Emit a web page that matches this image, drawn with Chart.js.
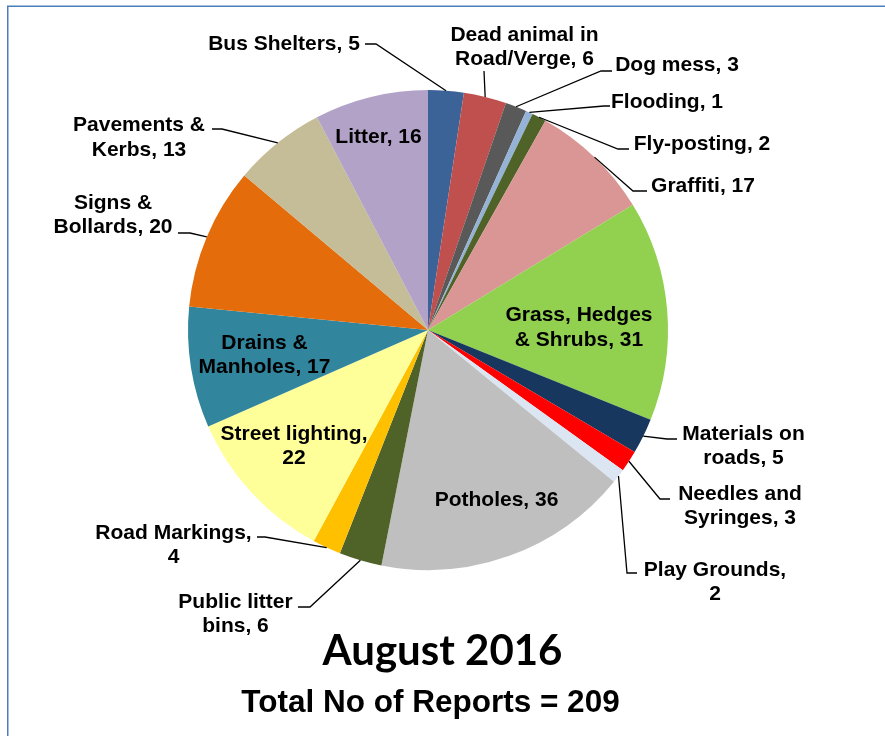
<!DOCTYPE html>
<html>
<head>
<meta charset="utf-8">
<script src="https://cdn.jsdelivr.net/npm/chart.js@4.4.1/dist/chart.umd.min.js"></script>
<style>
  html, body { margin: 0; padding: 0; background: #ffffff; }
  #wrap { width: 885px; height: 736px; position: relative; }
</style>
</head>
<body>
<div id="wrap"><canvas id="c" width="885" height="736"></canvas></div>
<script>
// ---------------- data ----------------
const categories = [
  "Bus Shelters", "Dead animal in Road/Verge", "Dog mess", "Flooding", "Fly-posting",
  "Graffiti", "Grass, Hedges & Shrubs", "Materials on roads", "Needles and Syringes",
  "Play Grounds", "Potholes", "Public litter bins", "Road Markings", "Street lighting",
  "Drains & Manholes", "Signs & Bollards", "Pavements & Kerbs", "Litter"
];
const reports = [5, 6, 3, 1, 2, 17, 31, 5, 3, 2, 36, 6, 4, 22, 17, 20, 13, 16];
const sliceColors = [
  "#3C6398", "#C0504D", "#595959", "#95B3D7", "#4F6228",
  "#D99694", "#92D050", "#17375E", "#FF0000",
  "#DCE6F2", "#BFBFBF", "#4F6228", "#FFC000", "#FFFF99",
  "#31859C", "#E46C0A", "#C4BD97", "#B3A2C7"
];
const periodTitle = "August 2016";
const totalReports = reports.reduce((a, b) => a + b, 0);
const subtitleText = "Total No of Reports = " + totalReports;

// ---------------- label layout (offsets from pie centre) ----------------
// pos: [dx, dy] centre of first text line; breakAt: words on first line; leader: points from label toward slice
const labelLayout = [
  { pos: [-144, -288], breakAt: 0, leader: [[-63, -286], [-52, -286]] },
  { pos: [96.5, -297], breakAt: 3, leader: [[56, -259]] },
  { pos: [249, -267], breakAt: 0, leader: [[184, -259], [173, -259]] },
  { pos: [239, -230], breakAt: 0, leader: [[182, -224], [176, -224]] },
  { pos: [274, -188], breakAt: 0, leader: [[201, -181], [190, -181]] },
  { pos: [275, -146], breakAt: 0, leader: [[219, -139], [205, -139]] },
  { pos: [151, -16.5], breakAt: 2 },
  { pos: [315.5, 102], breakAt: 2, leader: [[249, 109], [239, 109]] },
  { pos: [312, 162], breakAt: 2, leader: [[242, 169], [232, 169]] },
  { pos: [287, 238], breakAt: 2, leader: [[209, 243], [199, 243]] },
  { pos: [68.5, 168], breakAt: 0 },
  { pos: [-192.5, 270], breakAt: 2, leader: [[-130, 277], [-118, 277]] },
  { pos: [-254.5, 201], breakAt: 2, leader: [[-171, 207], [-163, 207]] },
  { pos: [-134, 102], breakAt: 2 },
  { pos: [-163.5, 11], breakAt: 2 },
  { pos: [-315, -129], breakAt: 2, leader: [[-250, -97], [-238, -97]] },
  { pos: [-289, -206.5], breakAt: 2, leader: [[-216, -201], [-206, -201]] },
  { pos: [-49.5, -195], breakAt: 0 }
];

const LABEL_FONT = 'bold 21px "Liberation Sans", Arial, sans-serif';
const LINE_H = 24.5;

const framePlugin = {
  id: 'frame',
  beforeDraw(chart) {
    const ctx = chart.ctx;
    ctx.save();
    ctx.fillStyle = '#ffffff';
    ctx.fillRect(0, 0, chart.width, chart.height);
    ctx.strokeStyle = '#4A7EBB';
    ctx.lineWidth = 1.5;
    ctx.beginPath();
    ctx.moveTo(7.75, chart.height);
    ctx.lineTo(7.75, 6.25);
    ctx.lineTo(chart.width, 6.25);
    ctx.stroke();
    ctx.restore();
  }
};

const labelPlugin = {
  id: 'sliceLabels',
  afterDatasetsDraw(chart) {
    const ctx = chart.ctx;
    const arcs = chart.getDatasetMeta(0).data;
    const cx = arcs[0].x, cy = arcs[0].y;
    ctx.save();
    ctx.strokeStyle = '#000000';
    ctx.lineWidth = 1.3;
    arcs.forEach((arc, i) => {
      const lay = labelLayout[i];
      if (!lay || !lay.leader) return;
      const p = arc.getProps(['startAngle', 'endAngle', 'outerRadius', 'x', 'y'], true);
      const a = (p.startAngle + p.endAngle) / 2;
      ctx.beginPath();
      lay.leader.forEach((pt, k) => {
        const X = cx + pt[0], Y = cy + pt[1];
        if (k === 0) ctx.moveTo(X, Y); else ctx.lineTo(X, Y);
      });
      ctx.lineTo(p.x + p.outerRadius * Math.cos(a), p.y + p.outerRadius * Math.sin(a));
      ctx.stroke();
    });

    ctx.font = LABEL_FONT;
    ctx.fillStyle = '#000000';
    ctx.textAlign = 'center';
    ctx.textBaseline = 'alphabetic';
    arcs.forEach((arc, i) => {
      const lay = labelLayout[i];
      if (!lay) return;
      const words = (categories[i] + ', ' + reports[i]).split(' ');
      const lines = lay.breakAt
        ? [words.slice(0, lay.breakAt).join(' '), words.slice(lay.breakAt).join(' ')]
        : [words.join(' ')];
      lines.forEach((ln, k) => {
        ctx.fillText(ln, cx + lay.pos[0], cy + lay.pos[1] + 7.5 + k * LINE_H);
      });
    });

    // titles below the pie
    ctx.font = 'bold 42px Lato, "Open Sans", sans-serif';
    ctx.fillText(periodTitle, cx + 14.5, cy + 335);
    ctx.font = 'bold 31.5px "Liberation Sans", Arial, sans-serif';
    ctx.fillText(subtitleText, cx + 2.5, cy + 381.5);
    ctx.restore();
  }
};

new Chart(document.getElementById('c'), {
  type: 'pie',
  data: {
    labels: categories,
    datasets: [{
      data: reports,
      backgroundColor: sliceColors,
      borderWidth: 0
    }]
  },
  options: {
    responsive: false,
    devicePixelRatio: 1,
    animation: false,
    layout: { padding: { left: 188, top: 90, right: 217, bottom: 166 } },
    plugins: {
      legend: { display: false },
      tooltip: { enabled: false },
      title: { display: false }
    }
  },
  plugins: [framePlugin, labelPlugin]
});
</script>
</body>
</html>
